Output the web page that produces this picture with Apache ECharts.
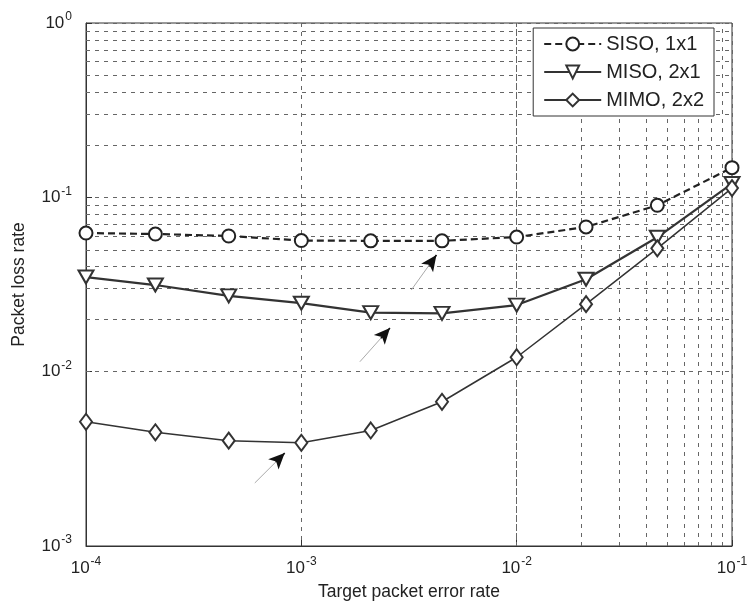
<!DOCTYPE html>
<html>
<head>
<meta charset="utf-8">
<script src="https://cdn.jsdelivr.net/npm/echarts@6/dist/echarts.min.js"></script>
<style>
  html, body { margin: 0; padding: 0; background: #fff; }
  #chart { width: 753px; height: 610px; }
</style>
</head>
<body>
<div id="chart"></div>
<script>
// values
const targetPER = [1e-4, 2.1e-4, 4.6e-4, 1e-3, 2.1e-3, 4.5e-3, 1e-2, 2.1e-2, 4.5e-2, 1e-1];
const sisoLoss = [0.0624, 0.0616, 0.0600, 0.0565, 0.0563, 0.0563, 0.0592, 0.0676, 0.090, 0.148];
const misoLoss = [0.0349, 0.0314, 0.0272, 0.0247, 0.0218, 0.0216, 0.0241, 0.0339, 0.059, 0.120];
const mimoLoss = [0.00516, 0.00449, 0.00402, 0.00391, 0.0046, 0.00672, 0.0121, 0.0244, 0.051, 0.113];

const xMinorGrid = [2e-4, 3e-4, 4e-4, 5e-4, 6e-4, 7e-4, 8e-4, 9e-4,
  2e-3, 3e-3, 4e-3, 5e-3, 6e-3, 7e-3, 8e-3, 9e-3,
  2e-2, 3e-2, 4e-2, 5e-2, 6e-2, 7e-2, 8e-2, 9e-2];
const yMinorGrid = [2e-3, 3e-3, 4e-3, 5e-3, 6e-3, 7e-3, 8e-3, 9e-3,
  2e-2, 3e-2, 4e-2, 5e-2, 6e-2, 7e-2, 8e-2, 9e-2,
  0.2, 0.3, 0.4, 0.5, 0.6, 0.7, 0.8, 0.9];

// annotation arrows: [tail, tip] in data units
const arrows = [
  [[3.24e-3, 0.0294], [4.24e-3, 0.0467]],
  [[1.87e-3, 0.0114], [2.58e-3, 0.0178]],
  [[6.08e-4, 0.0023], [8.37e-4, 0.00341]]
];

const pairs = (ys) => targetPER.map((x, i) => [x, ys[i]]);

const expLabel = (v) => '{b|10}{e|' + Math.round(Math.log10(v)) + '}';
const labelRich = {
  b: { fontSize: 17, color: '#222', fontFamily: 'Liberation Sans' },
  e: { fontSize: 12, color: '#222', fontFamily: 'Liberation Sans', padding: [0, 0, 12, 1] }
};

const gridDash = { color: '#666', width: 1, type: [4, 5] };

const chart = echarts.init(document.getElementById('chart'));

const arrowLines = [];
arrows.forEach(([tail, tip]) => {
  arrowLines.push([{ coord: tail, symbol: 'none', lineStyle: { color: '#aaa', width: 1, type: 'solid' } },
                   { coord: tip, symbol: 'none' }]);
  const mid = [tip[0] * Math.pow(tail[0] / tip[0], 0.3), tip[1] * Math.pow(tail[1] / tip[1], 0.3)];
  arrowLines.push([{ coord: mid, symbol: 'none', lineStyle: { color: '#111', width: 1.5, type: 'solid' } },
                   { coord: tip, symbol: 'arrow', symbolSize: [11, 16] }]);
});

chart.setOption({
  animation: false,
  backgroundColor: '#fff',
  textStyle: { fontFamily: 'Liberation Sans' },
  grid: {
    left: 86, right: 21, top: 23, bottom: 64,
    show: true, borderColor: '#333', borderWidth: 1, backgroundColor: 'transparent'
  },
  legend: {
    z: 20,
    orient: 'vertical',
    right: 39, top: 28,
    itemWidth: 57, itemHeight: 16, itemGap: 8,
    padding: [6, 10, 6, 10],
    backgroundColor: '#fff',
    borderColor: '#333', borderWidth: 1,
    textStyle: { fontSize: 20, color: '#222', fontFamily: 'Liberation Sans' },
    data: ['SISO, 1x1', 'MISO, 2x1', 'MIMO, 2x2']
  },
  xAxis: {
    type: 'log', logBase: 10, min: 1e-4, max: 1e-1,
    name: 'Target packet error rate',
    nameLocation: 'middle', nameGap: 37,
    nameTextStyle: { fontSize: 17.5, color: '#222' },
    axisLine: { show: true, lineStyle: { color: '#333' } },
    axisTick: { show: true, inside: true, length: 6, lineStyle: { color: '#333' } },
    axisLabel: { formatter: expLabel, rich: labelRich, margin: 10 },
    splitLine: { show: true, lineStyle: gridDash }
  },
  yAxis: {
    type: 'log', logBase: 10, min: 1e-3, max: 1,
    name: 'Packet loss rate',
    nameLocation: 'middle', nameGap: 58,
    nameTextStyle: { fontSize: 17.5, color: '#222' },
    axisLine: { show: true, lineStyle: { color: '#333' } },
    axisTick: { show: true, inside: true, length: 6, lineStyle: { color: '#333' } },
    axisLabel: { formatter: expLabel, rich: labelRich, margin: 14 },
    splitLine: { show: true, lineStyle: gridDash }
  },
  series: [
    {
      name: 'grid',
      type: 'line',
      data: [],
      silent: true,
      markLine: {
        silent: true, symbol: 'none', label: { show: false },
        lineStyle: gridDash,
        data: xMinorGrid.map(v => ({ xAxis: v })).concat(yMinorGrid.map(v => ({ yAxis: v })))
      }
    },
    {
      name: 'SISO, 1x1',
      type: 'line',
      z: 6,
      data: pairs(sisoLoss),
      symbol: 'emptyCircle', symbolSize: 13,
      lineStyle: { color: '#222', width: 2.2, type: [7, 4] },
      itemStyle: { color: '#222', borderWidth: 2 }
    },
    {
      name: 'MISO, 2x1',
      type: 'line',
      z: 6,
      data: pairs(misoLoss),
      symbol: 'emptyTriangle', symbolSize: [15, 13], symbolRotate: 180,
      lineStyle: { color: '#333', width: 2.2 },
      itemStyle: { color: '#333', borderWidth: 1.6 }
    },
    {
      name: 'MIMO, 2x2',
      type: 'line',
      z: 6,
      data: pairs(mimoLoss),
      symbol: 'emptyDiamond', symbolSize: [12, 16],
      lineStyle: { color: '#333', width: 1.5 },
      itemStyle: { color: '#333', borderWidth: 1.4 },
      markLine: {
        silent: true, label: { show: false },
        data: arrowLines
      }
    }
  ]
});
</script>
</body>
</html>
